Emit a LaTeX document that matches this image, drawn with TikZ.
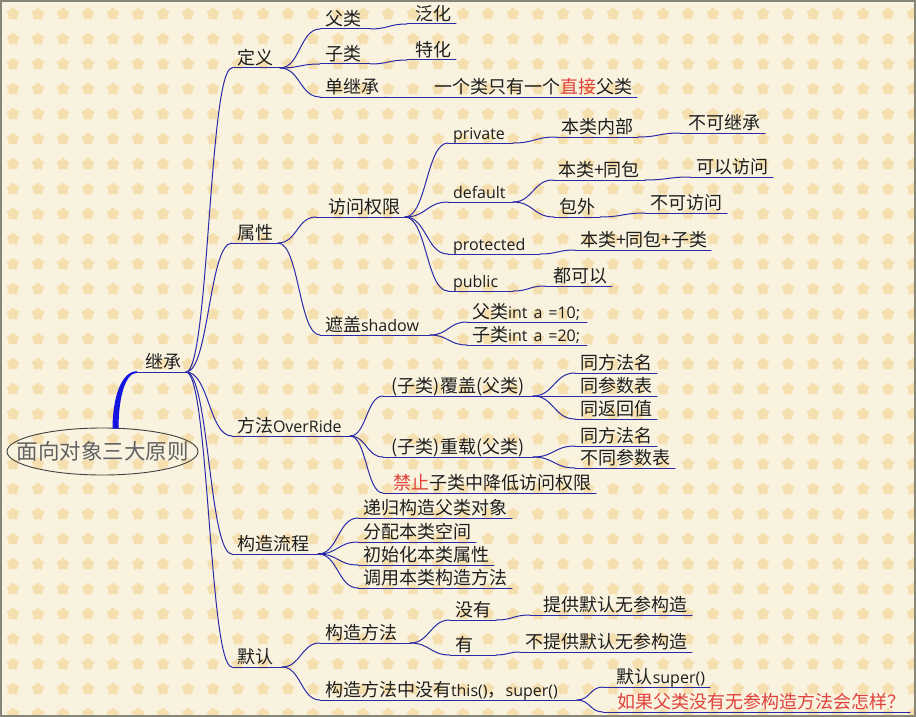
\documentclass[tikz,border=0pt]{standalone}
\usepackage{fontspec}
\setmainfont{Noto Sans CJK SC}
\newfontfamily\latinf{Open Sans}
\newcommand\en[1]{{\latinf\fontsize{16}{18}\selectfont #1}}
\usetikzlibrary{calc,shapes.geometric}
\definecolor{bgc}{HTML}{F8F2DF}
\definecolor{starc}{HTML}{F6DFAE}
\definecolor{linec}{HTML}{2A2AA8}
\definecolor{rootc}{HTML}{1414E0}
\definecolor{txtc}{HTML}{1E1E1E}
\definecolor{redc}{HTML}{E0413A}
\definecolor{framec}{HTML}{858578}
\begin{document}
\begin{tikzpicture}[x=1pt,y=-1pt,
	topic/.style={anchor=south west,inner xsep=5pt,inner ysep=3.5pt,outer sep=0pt,text depth=0pt,text width=#1pt,align=left,text=txtc,font=\fontsize{18}{20}\selectfont},
	link/.style={draw=linec,line width=1pt,line cap=round},
	branch/.style={to path={..controls($(\tikztostart)!.5!(\tikztotarget|-\tikztostart)$)and($(\tikztotarget)!.5!(\tikztostart|-\tikztotarget)$)..(\tikztotarget)}},
	bgstar/.style={star,star points=5,star point ratio=1.7,minimum size=15pt,inner sep=0pt,rounded corners=1.5pt,fill=starc}]
	\useasboundingbox(0,0)rectangle(916,717);
	% background
	\fill[bgc](0,0)rectangle(916,717);
	\foreach\i in{0,...,36}{\foreach\j in{0,...,28}{\node[bgstar](s\i-\j)at(13+25*\i,14+25*\j){};}}
	% root
	\node[inner sep=0pt,text=black!62,font=\fontsize{21.5}{24}\selectfont](root)at(102.5,451.5){面向对象三大原则};
	\draw[black!75,line width=.9pt](root.center)ellipse[x radius=95.5pt,y radius=23.5pt];
	% 继承
	\node[topic=39,align=right](jc)at(137,372){继承};
	% 定义
	\node[topic=38](dy)at(232,68){定义};
	\node[topic=40](fl)at(320,29){父类};
	\node[topic=39,align=right](fh)at(407,24){泛化};
	\node[topic=40](zl)at(320,64){子类};
	\node[topic=39,align=right](th)at(407,60){特化};
	\node[topic=55](djc)at(320,97){单继承};
	\node[topic=242,align=right](yg)at(385,97){一个类只有一个{\color{redc}直接}父类};
	% 属性
	\node[topic=36](sx)at(232,243){属性};
	\node[topic=79,align=right](fw)at(316,217){访问权限};
	\node[topic=55](pri)at(448,143){\en{private}};
	\node[topic=72](blnb)at(556,137){本类内部};
	\node[topic=75,align=right](bkjc)at(680,133){不可继承};
	\node[topic=55](def)at(448,202){\en{default}};
	\node[topic=82](bltb)at(553,180){本类+同包};
	\node[topic=73,align=right](kyfw)at(690,177){可以访问};
	\node[topic=36](bw)at(554,217){包外};
	\node[topic=72,align=right](bkfw)at(645,213){不可访问};
	\node[topic=82](pro)at(448,254){\en{protected}};
	\node[topic=126,align=right](btz)at(575,250){本类+同包+子类};
	\node[topic=55](pub)at(448,291){\en{public}};
	\node[topic=57,align=right](dky)at(545,286){都可以};
	\node[topic=100](zg)at(320,335){遮盖\en{shadow}};
	\node[topic=110](fint)at(467,322){父类\en{int~a~=10;}};
	\node[topic=110](zint)at(467,345){子类\en{int~a~=20;}};
	% 方法
	\node[topic=108](ff)at(232,436){方法\en{OverRide}};
	\node[topic=140,align=center](fg)at(383,396){(子类)覆盖(父类)};
	\node[topic=72,align=right](tf1)at(575,373){同方法名};
	\node[topic=72,align=right](tc)at(575,396){同参数表};
	\node[topic=72,align=right](tfh)at(575,419){同返回值};
	\node[topic=140,align=center](cz)at(383,457){(子类)重载(父类)};
	\node[topic=72,align=right](tf2)at(575,446){同方法名};
	\node[topic=90,align=right](bt)at(575,468){不同参数表};
	\node[topic=203,align=right](jz)at(383,493){{\color{redc}禁止}子类中降低访问权限};
	% 构造流程
	\node[topic=76](lc)at(232,554){构造流程};
	\node[topic=144](dg)at(358,518){递归构造父类对象};
	\node[topic=108](fp)at(358,542){分配本类空间};
	\node[topic=126](csh)at(358,565){初始化本类属性};
	\node[topic=144](dyff)at(358,588){调用本类构造方法};
	% 默认
	\node[topic=40](mr)at(232,667){默认};
	\node[topic=80](gz)at(320,643){构造方法};
	\node[topic=36](my)at(450,620){没有};
	\node[topic=152,align=right](tg)at(530,615){提供默认无参构造};
	\node[topic=36](you)at(450,655){有};
	\node[topic=162,align=right](btg)at(520,652){不提供默认无参构造};
	\node[topic=247](wth)at(320,700){构造方法中没有\en{this()}，\en{super()}};
	\node[topic=97,align=right](mrs)at(603,687){默认\en{super()}};
	\node[topic=297,align=right,text=redc](rg)at(603,712){如果父类没有无参构造方法会怎样？};
	% underlines and branches
	\foreach\n in{jc,dy,fl,fh,zl,th,djc,yg,sx,fw,pri,blnb,bkjc,def,bltb,kyfw,bw,bkfw,pro,btz,pub,dky,zg,fint,zint,ff,fg,tf1,tc,tfh,cz,tf2,bt,jz,lc,dg,fp,csh,dyff,mr,gz,my,tg,you,btg,wth,mrs,rg}{\draw[link](\n.south west)--(\n.south east);}
	\foreach\a/\b in{jc/dy,jc/sx,jc/ff,jc/lc,jc/mr,dy/fl,dy/zl,dy/djc,fl/fh,zl/th,djc/yg,sx/fw,sx/zg,fw/pri,fw/def,fw/pro,fw/pub,pri/blnb,blnb/bkjc,def/bltb,def/bw,bltb/kyfw,bw/bkfw,pro/btz,pub/dky,zg/fint,zg/zint,ff/fg,ff/cz,ff/jz,fg/tf1,fg/tc,fg/tfh,cz/tf2,cz/bt,lc/dg,lc/fp,lc/csh,lc/dyff,mr/gz,mr/wth,gz/my,gz/you,my/tg,you/btg,wth/mrs,wth/rg}{\draw[link](\a.south east)to[branch](\b.south west);}
	% thick stem from root
	\fill[rootc]([xshift=10pt,yshift=23pt]root.center)..controls+(0,-30)and+(-16,0)..([yshift=.8pt]jc.south west)--([yshift=-.8pt]jc.south west)..controls+(-12,0)and+(0,-30)..([xshift=16pt,yshift=23pt]root.center)--cycle;
	\draw[framec,line width=2pt](1,1)rectangle(915,716);
\end{tikzpicture}
\end{document}
